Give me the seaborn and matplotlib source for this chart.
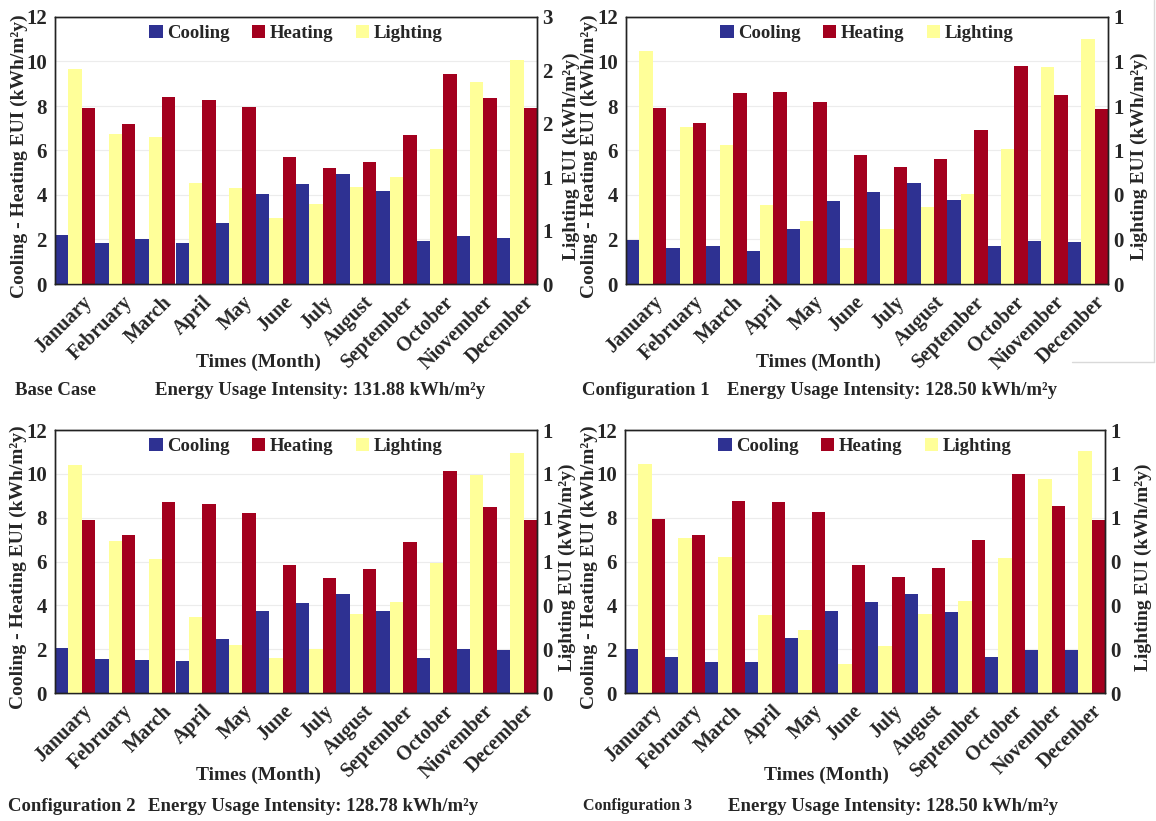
import numpy as np
import pandas as pd
import matplotlib
matplotlib.use("Agg")
import matplotlib.pyplot as plt
import matplotlib.transforms as mtrans
from matplotlib.patches import Patch
from matplotlib.lines import Line2D
from matplotlib.ticker import FormatStrFormatter
import seaborn as sns

# month labels as printed in each panel (typos kept)
months_a = ["January", "February", "March", "April", "May", "June", "July",
            "August", "September", "October", "Niovember", "December"]
months_b = ["January", "February", "March", "April", "May", "June", "July",
            "August", "September", "October", "November", "Decenber"]

# Base Case
base_cool = [2.2, 1.83, 2.0, 1.83, 2.76, 4.04, 4.48, 4.93, 4.19, 1.92, 2.16, 2.07]
base_heat = [7.9, 7.2, 8.42, 8.27, 7.95, 5.69, 5.2, 5.5, 6.7, 9.44, 8.34, 7.9]
base_light = [2.42, 1.68, 1.65, 1.14, 1.08, 0.74, 0.90, 1.09, 1.20, 1.52, 2.27, 2.52]

# Configuration 1
c1_cool = [1.98, 1.6, 1.7, 1.48, 2.46, 3.74, 4.13, 4.53, 3.79, 1.7, 1.95, 1.9]
c1_heat = [7.9, 7.22, 8.57, 8.63, 8.2, 5.81, 5.26, 5.64, 6.9, 9.82, 8.51, 7.87]
c1_light = [1.047, 0.704, 0.623, 0.353, 0.282, 0.164, 0.246, 0.347, 0.405, 0.608, 0.976, 1.102]

# Configuration 2
c2_cool = [2.04, 1.53, 1.49, 1.46, 2.46, 3.76, 4.12, 4.53, 3.73, 1.6, 2.0, 1.96]
c2_heat = [7.9, 7.23, 8.73, 8.64, 8.22, 5.82, 5.26, 5.65, 6.91, 10.14, 8.49, 7.9]
c2_light = [1.039, 0.694, 0.612, 0.346, 0.219, 0.159, 0.202, 0.361, 0.417, 0.592, 0.994, 1.096]

# Configuration 3
c3_cool = [2.01, 1.63, 1.42, 1.42, 2.49, 3.76, 4.15, 4.51, 3.71, 1.66, 1.98, 1.96]
c3_heat = [7.94, 7.23, 8.78, 8.71, 8.24, 5.86, 5.31, 5.71, 6.97, 10.0, 8.54, 7.91]
c3_light = [0.785, 0.529, 0.467, 0.267, 0.214, 0.100, 0.162, 0.272, 0.314, 0.461, 0.734, 0.829]

series_order = ["Cooling", "Lighting", "Heating"]
legend_order = ["Cooling", "Heating", "Lighting"]
colors = {"Cooling": "#2E3192", "Heating": "#A3001E", "Lighting": "#FFFF99"}

W, H = 1156, 821
sns.set_theme(style="white")
plt.rcParams["font.family"] = ["Liberation Serif", "DejaVu Serif"]
plt.rcParams["font.weight"] = "bold"

fig = plt.figure(figsize=(W / 100, H / 100), dpi=100)


def px(x, y):
    return x / W, 1 - y / H


def panel(box, months, cool, heat, light, lmax, lstep, ylab_l, ylab_r, xlab_x, xlab_y,
          cap1, cap1_x, cap2, cap2_x, cap_y, cap1_size=13.5):
    l, t, r, b = box
    ax = fig.add_axes([l / W, 1 - b / H, (r - l) / W, (b - t) / H])
    df = pd.DataFrame({"Month": months * 2,
                       "Series": ["Cooling"] * 12 + ["Heating"] * 12,
                       "EUI": cool + heat})
    sns.barplot(data=df, x="Month", y="EUI", hue="Series", order=months,
                hue_order=series_order, palette=colors, width=1, gap=0, dodge=True,
                saturation=1, linewidth=0, errorbar=None, legend=False, ax=ax)
    ax2 = ax.twinx()
    dfl = pd.DataFrame({"Month": months, "Series": "Lighting", "EUI": light})
    sns.barplot(data=dfl, x="Month", y="EUI", hue="Series", order=months,
                hue_order=series_order, palette=colors, width=1, gap=0, dodge=True,
                saturation=1, linewidth=0, errorbar=None, legend=False, ax=ax2)

    ax.set_xlim(-0.5, 11.5)
    ax.set_ylim(0, 12)
    ax.set_yticks(np.arange(0, 13, 2))
    ax.yaxis.grid(True, color="#ececec", linewidth=0.8)
    ax.set_axisbelow(True)
    ax2.set_ylim(0, lmax)
    ax2.set_yticks(np.arange(0, lmax + 1e-9, lstep))
    ax2.yaxis.set_major_formatter(FormatStrFormatter("%.0f"))
    ax2.grid(False)

    for a in (ax, ax2):
        a.set_xlabel("")
        a.set_ylabel("")
        for s in a.spines.values():
            s.set_color("#222222")
            s.set_linewidth(1.0)
        a.tick_params(axis="both", length=0, labelsize=15, pad=6)
    ax2.tick_params(axis="y", pad=4)

    # left label: x is its right edge, right label: x is its left edge
    ax.set_ylabel("Cooling - Heating EUI (kWh/m²y)", fontsize=14, fontweight="bold")
    ax2.set_ylabel("Lighting EUI (kWh/m²y)", fontsize=14, fontweight="bold")
    ax.yaxis.set_label_coords((ylab_l - l) / (r - l), 0.48)
    ax2.yaxis.set_label_coords((ylab_r - l) / (r - l), 0.48)

    ax.set_xticks(range(12))
    ax.set_xticklabels(months, rotation=45, ha="right", va="center",
                       rotation_mode="anchor", fontsize=14.5, fontweight="bold")
    off = mtrans.ScaledTranslation(0.14, -0.07, fig.dpi_scale_trans)
    for lab in ax.get_xticklabels():
        lab.set_transform(lab.get_transform() + off)

    handles = [Patch(facecolor=colors[k], edgecolor="none", label=k) for k in legend_order]
    ax2.legend(handles=handles, loc="upper center", bbox_to_anchor=(0.5, 1.035),
               ncol=3, frameon=False, handlelength=0.7, handleheight=0.7,
               handletextpad=0.25, columnspacing=1.2,
               prop={"family": "Liberation Serif", "weight": "bold", "size": 13.5})

    fig.text(*px(xlab_x, xlab_y), "Times (Month)", ha="center", va="center",
             fontsize=14, fontweight="bold")
    fig.text(*px(cap1_x, cap_y), cap1, ha="left", va="center",
             fontsize=cap1_size, fontweight="bold")
    fig.text(*px(cap2_x, cap_y), cap2, ha="left", va="center",
             fontsize=13.5, fontweight="bold")


panel((55, 17, 537, 284), months_a, base_cool, base_heat, base_light, 3.0, 0.6, 28, 563,
      258, 362, "Base Case", 15, "Energy Usage Intensity: 131.88 kWh/m²y", 155, 390)
panel((626, 17, 1108, 284), months_a, c1_cool, c1_heat, c1_light, 1.2, 0.2, 598, 1131,
      818, 362, "Configuration 1", 582, "Energy Usage Intensity: 128.50 kWh/m²y", 727, 390)
panel((55, 430, 537, 693), months_a, c2_cool, c2_heat, c2_light, 1.2, 0.2, 27, 559,
      258, 775, "Configuration 2", 8, "Energy Usage Intensity: 128.78 kWh/m²y", 148, 806)
panel((625, 430, 1105, 693), months_b, c3_cool, c3_heat, c3_light, 0.9, 0.15, 598, 1135,
      826, 775, "Configuration 3", 583, "Energy Usage Intensity: 128.50 kWh/m²y", 728, 806,
      cap1_size=11.5)

# faint border left over from the source image, top right
fig.add_artist(Line2D([1154 / W, 1154 / W], [1, 1 - 362 / H], transform=fig.transFigure,
                      color="#d9d9d9", linewidth=1))
fig.add_artist(Line2D([1072 / W, 1154 / W], [1 - 362 / H, 1 - 362 / H], transform=fig.transFigure,
                      color="#d9d9d9", linewidth=1))

fig.savefig("out.png", dpi=100)
